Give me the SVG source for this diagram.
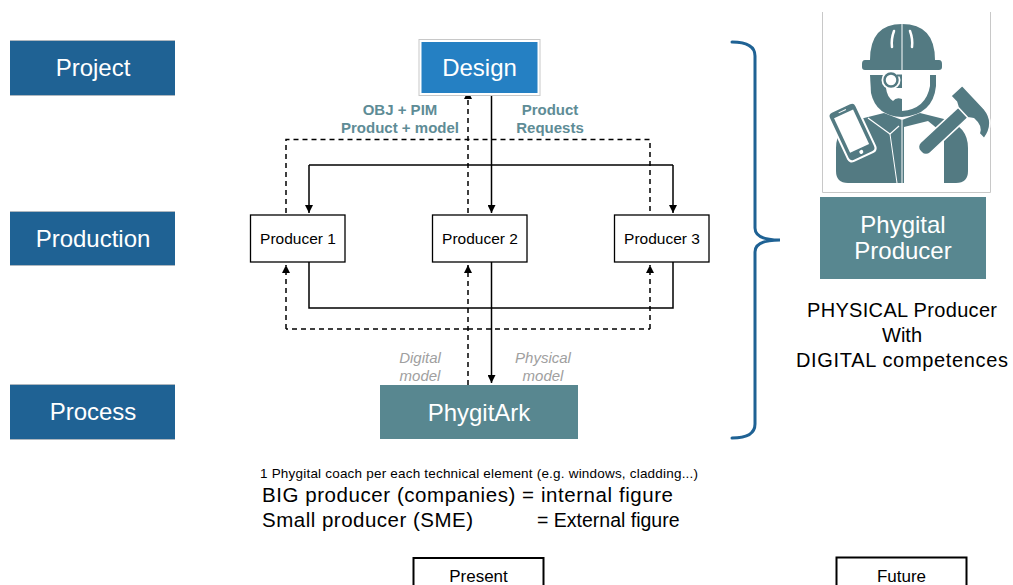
<svg xmlns="http://www.w3.org/2000/svg" width="1013" height="585" viewBox="0 0 1013 585">
  <defs>
    <style>
      .lane { fill: #1F6294; }
      .lane-edge { stroke: #AEB7BF; stroke-width: 1; }
      .lane-text { font-family: "Liberation Sans", Arial, sans-serif; font-size: 24px; fill: #FFFFFF; text-anchor: middle; }
      .prod { fill: #FFFFFF; stroke: #000000; stroke-width: 1.3; }
      .prod-text { font-family: "Liberation Sans", Arial, sans-serif; font-size: 15.5px; fill: #000000; text-anchor: middle; }
      .teal { fill: #588790; }
      .white-text { font-family: "Liberation Sans", Arial, sans-serif; font-size: 24px; fill: #FFFFFF; text-anchor: middle; }
      .flow-label { font-family: "Liberation Sans", Arial, sans-serif; font-size: 15px; fill: #5E8C96; text-anchor: middle; font-weight: bold; }
      .model-label { font-family: "Liberation Sans", Arial, sans-serif; font-size: 15px; fill: #A0A0A0; text-anchor: middle; font-style: italic; }
      .solid { fill: none; stroke: #000000; stroke-width: 1.5; }
      .dashed { fill: none; stroke: #000000; stroke-width: 1.5; stroke-dasharray: 5 4; }
      .note { font-family: "Liberation Sans", Arial, sans-serif; fill: #000000; }
      .icon { fill: #537A82; }
      .cut { fill: #FFFFFF; }
    </style>
    <marker id="arrow" viewBox="0 0 10 10" refX="10" refY="5" markerWidth="8" markerHeight="8" orient="auto" markerUnits="userSpaceOnUse">
      <path d="M0,0 L10,5 L0,10 Z" fill="#000000"/>
    </marker>
  </defs>

  <rect width="1013" height="585" fill="#FFFFFF"/>

  <!-- Level labels on the left -->
  <g id="lane-project">
    <rect class="lane" x="10" y="41" width="165" height="54"/>
    <line class="lane-edge" x1="10" y1="40.5" x2="175" y2="40.5"/>
    <line class="lane-edge" x1="10" y1="95.5" x2="175" y2="95.5"/>
    <text class="lane-text" x="93" y="76">Project</text>
  </g>
  <g id="lane-production">
    <rect class="lane" x="10" y="212" width="165" height="53"/>
    <line class="lane-edge" x1="10" y1="211.5" x2="175" y2="211.5"/>
    <line class="lane-edge" x1="10" y1="265.5" x2="175" y2="265.5"/>
    <text class="lane-text" x="93" y="247">Production</text>
  </g>
  <g id="lane-process">
    <rect class="lane" x="10" y="385" width="165" height="54"/>
    <line class="lane-edge" x1="10" y1="384.5" x2="175" y2="384.5"/>
    <line class="lane-edge" x1="10" y1="439.5" x2="175" y2="439.5"/>
    <text class="lane-text" x="93" y="420">Process</text>
  </g>

  <!-- Connectors -->
  <g id="connectors">
    <!-- design requests fan out to producers -->
    <path class="solid" d="M491.5,95 L491.5,213" marker-end="url(#arrow)"/>
    <path class="solid" d="M309,165 L673,165"/>
    <path class="solid" d="M309,165 L309,213" marker-end="url(#arrow)"/>
    <path class="solid" d="M673,165 L673,213" marker-end="url(#arrow)"/>
    <!-- models go back up to design -->
    <path class="dashed" d="M286,213 L286,139.5 L650,139.5 L650,213"/>
    <path class="dashed" d="M468,213 L468,91" marker-end="url(#arrow)"/>
    <!-- producers deliver physical model to PhygitArk -->
    <path class="solid" d="M309,262 L309,308 L673,308 L673,262"/>
    <path class="solid" d="M491.5,262 L491.5,383" marker-end="url(#arrow)"/>
    <!-- digital model from PhygitArk back to producers -->
    <path class="dashed" d="M468,329 L650,329"/>
    <path class="dashed" d="M468,329 L286,329"/>
    <path class="dashed" d="M286,329 L286,265" marker-end="url(#arrow)"/>
    <path class="dashed" d="M650,329 L650,265" marker-end="url(#arrow)"/>
    <path class="dashed" d="M468,385 L468,265" marker-end="url(#arrow)"/>
  </g>

  <!-- Flow labels -->
  <g id="flow-labels">
    <text class="flow-label" x="400" y="115">OBJ + PIM</text>
    <text class="flow-label" x="400" y="133">Product + model</text>
    <text class="flow-label" x="550" y="115">Product</text>
    <text class="flow-label" x="550" y="133">Requests</text>
    <text class="model-label" x="420" y="363">Digital</text>
    <text class="model-label" x="420" y="381">model</text>
    <text class="model-label" x="543" y="363">Physical</text>
    <text class="model-label" x="543" y="381">model</text>
  </g>

  <!-- Design node -->
  <g id="node-design">
    <rect x="419" y="39.5" width="121" height="56" fill="#FFFFFF" stroke="#C8C8C8" stroke-width="1"/>
    <rect x="421.5" y="42" width="116" height="51" fill="#2580C3"/>
    <text class="white-text" x="479.5" y="76">Design</text>
  </g>

  <!-- Producer nodes -->
  <g id="node-producer-1">
    <rect class="prod" x="250.5" y="215" width="94.5" height="47"/>
    <text class="prod-text" x="298" y="244">Producer 1</text>
  </g>
  <g id="node-producer-2">
    <rect class="prod" x="432.5" y="215" width="94.5" height="47"/>
    <text class="prod-text" x="480" y="244">Producer 2</text>
  </g>
  <g id="node-producer-3">
    <rect class="prod" x="614.5" y="215" width="94.5" height="47"/>
    <text class="prod-text" x="662" y="244">Producer 3</text>
  </g>

  <!-- PhygitArk node -->
  <g id="node-phygitark">
    <rect class="teal" x="380" y="385" width="198" height="54"/>
    <text class="white-text" x="479" y="421">PhygitArk</text>
  </g>

  <!-- Brace grouping the three levels -->
  <g id="brace">
    <path d="M732,42 Q755,42 755,56 L755,228 Q755,240 780,240 Q755,240 755,252 L755,424 Q755,438 732,438" fill="none" stroke="#1F6294" stroke-width="3" stroke-linecap="round"/>
  </g>

  <!-- Worker icon -->
  <g id="worker-icon">
    <path d="M822.5,12 L822.5,192.5 L990.5,192.5 L990.5,12" fill="none" stroke="#C8C8C8" stroke-width="1"/>
    <!-- hard hat -->
    <path class="icon" d="M870,60 Q870,24 902,24 Q935,24 935,60 L939,60 Q942,60 942,64 L942,67 Q942,70 939,70 L865,70 Q862,70 862,67 L862,64 Q862,60 865,60 Z"/>
    <line x1="902" y1="24" x2="902" y2="70" stroke="#FFFFFF" stroke-width="1"/>
    <path d="M894,31 Q891,39 892,47" fill="none" stroke="#FFFFFF" stroke-width="2.5" stroke-linecap="round"/>
    <path d="M910,31 Q913,39 912,47" fill="none" stroke="#FFFFFF" stroke-width="2.5" stroke-linecap="round"/>
    <!-- body -->
    <path class="icon" d="M836,171 L836,148 Q836,126 860,119 L884,113 L902,120 L920,113 L944,119 Q968,126 968,148 L968,171 Q968,183 956,183 L848,183 Q836,183 836,171 Z"/>
    <path d="M902,120 L902,183" stroke="#FFFFFF" stroke-width="1"/>
    <path class="cut" d="M904,127 L928,121 L944,134 L944,183 L904,183 Z"/>
    <path d="M868,118 L890,134 L899,126" fill="none" stroke="#FFFFFF" stroke-width="1.2"/>
    <path d="M890,134 L897,183" stroke="#FFFFFF" stroke-width="1"/>
    <!-- face: bearded left half -->
    <path class="icon" d="M870,75 L902,75 L902,117 Q876,116 871,93 Z"/>
    <path class="cut" d="M886,88 L902,88 L902,99 Q896,97 893,101 Q887,97 886,88 Z"/>
    <!-- face: outlined right half -->
    <path class="icon" d="M936,75 L936,86 Q933,115 902,117 L902,111 Q926,109 930,86 L930,75 Z"/>
    <!-- monocle with strap -->
    <circle class="cut" cx="891" cy="80" r="9.5"/>
    <circle cx="891" cy="80" r="6.5" fill="#FFFFFF" stroke="#537A82" stroke-width="2.5"/>
    <path d="M897,75.5 L902,75.5" stroke="#537A82" stroke-width="2"/>
    <!-- phone -->
    <g transform="rotate(-25 852 132)">
      <rect x="836" y="104" width="32" height="56" rx="5" fill="#FFFFFF"/>
      <rect x="838" y="106" width="28" height="52" rx="4" class="icon"/>
      <rect x="841.5" y="112" width="21" height="38" fill="#FFFFFF"/>
      <circle cx="852" cy="154" r="2" fill="#FFFFFF"/>
      <line x1="848" y1="109" x2="856" y2="109" stroke="#FFFFFF" stroke-width="1"/>
    </g>
    <!-- hammer -->
    <g transform="translate(970,106) rotate(47) scale(1.2)">
      <rect x="-6" y="4" width="12" height="52" rx="5" fill="#537A82" stroke="#FFFFFF" stroke-width="1.3"/>
      <path d="M-17,-7 L10,-7 Q25,-6 28,10 L22,10 Q19,4 10,5 L6,8 L-6,8 L-10,6 L-17,6 Z" fill="#537A82" stroke="#FFFFFF" stroke-width="1.3" stroke-linejoin="round"/>
    </g>
  </g>

  <!-- Phygital Producer node -->
  <g id="node-phygital-producer">
    <rect class="teal" x="820" y="197" width="166" height="82"/>
    <text class="white-text" x="903" y="233">Phygital</text>
    <text class="white-text" x="903" y="259">Producer</text>
  </g>

  <g id="future-description">
    <text class="note" x="902" y="317" font-size="20" text-anchor="middle" textLength="190">PHYSICAL Producer</text>
    <text class="note" x="902" y="342" font-size="20" text-anchor="middle">With</text>
    <text class="note" x="902" y="367" font-size="20" text-anchor="middle" textLength="212">DIGITAL competences</text>
  </g>

  <!-- Notes under the diagram -->
  <g id="notes">
    <text class="note" x="260" y="478" font-size="13.5" textLength="438">1 Phygital coach per each technical element (e.g. windows, cladding...)</text>
    <text class="note" x="262" y="502" font-size="20.5" textLength="411">BIG producer (companies) = internal figure</text>
    <text class="note" y="527" font-size="20.5"><tspan x="262" textLength="211">Small producer (SME)</tspan><tspan x="537" font-size="19.5">= External figure</tspan></text>
  </g>

  <!-- Time tags -->
  <g id="tag-present">
    <rect x="413.5" y="558" width="130" height="40" fill="#FFFFFF" stroke="#000000" stroke-width="2"/>
    <text class="note" x="478.5" y="582" font-size="17" text-anchor="middle">Present</text>
  </g>
  <g id="tag-future">
    <rect x="836.5" y="557.5" width="130" height="40" fill="#FFFFFF" stroke="#000000" stroke-width="2"/>
    <text class="note" x="901.5" y="582" font-size="17" text-anchor="middle">Future</text>
  </g>
</svg>
